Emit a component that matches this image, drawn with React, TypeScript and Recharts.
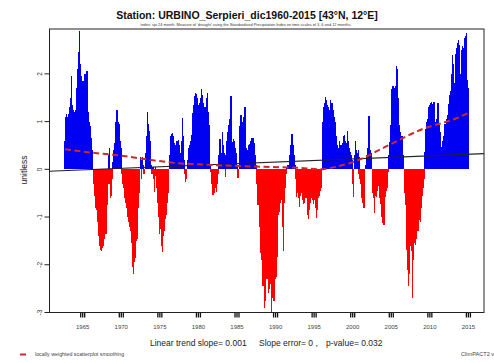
import { Bar, ComposedChart, Line, XAxis, YAxis } from "recharts"

// SPI-24 monthly values, Sep 1962 .. Dec 1969
const spi1960s = [
  0.6, 1.1, 1.15, 1.1,
  1.1, 1.05, 1.15, 1.3, 1.5, 1.45, 1.95, 1.35, 1.3, 1.25, 1.2, 1.1,
  1.0, 1.25, 1.7, 1.9, 2.1, 2.45, 2.9, 2.7, 2.2, 1.9, 1.95, 1.85,
  1.8, 1.85, 1.9, 2.0, 1.95, 2.0, 2.05, 1.7, 1.2, 1.15, 1.0, 0.9,
  0.85, 0.65, 0.4, 0.05, -0.1, -0.3, -0.55, -0.7, -0.8, -0.85, -0.95, -1.1,
  -1.2, -1.4, -1.6, -1.55, -1.68, -1.72, -1.65, -1.6, -1.5, -1.45, -1.35, -1.3,
  -1.35, -1.0, -0.75, -0.3, 0.3, 0.45, -0.3, -0.6, -0.55, -0.2, 0.15, 0.25,
  0.4, 0.55, 0.75, 1.0, 1.1, 1.25, 1.05, 1.0, 0.95, 0.8, 0.6, 0.45,
]
const spi1970s = [
  -0.1, -0.2, -0.3, -0.4, -0.5, -0.6, -0.65, -0.7, -0.8, -0.9, -1.0, -1.1,
  -1.15, -1.2, -1.3, -1.45, -1.55, -2.05, -2.2, -2.15, -1.95, -1.85, -1.6, -1.5,
  -1.45, -1.1, -0.8, -0.5, -0.3, 0.25, 0.2, -0.2, 0.15, 0.25, 0.1, -0.1,
  -0.05, 0.1, 0.35, 0.7, 1.2, 0.95, 0.85, 0.8, 0.6, 0.4, 0.1, -0.1,
  -0.1, 0.05, -0.2, -0.48, -0.15, 0.05, -0.05, -0.4, -0.7, -0.85, -1.0, -1.35,
  -1.15, -1.25, -1.45, -1.6, -1.73, -1.4, -1.3, -1.2, -1.05, -0.95, -0.8, -0.7,
  -0.5, -0.2, 0.1, 0.3, 0.5, 0.7, 0.75, 0.77, 0.7, 0.6, 0.55, 0.5,
  0.45, 0.55, 0.6, 0.5, 0.55, 0.62, 0.5, 0.35, 0.3, 0.5, 0.6, 1.08,
  0.7, 0.2, -0.1, -0.26, -0.2, -0.1, 0.05, 0.2, 0.35, 0.45, 0.5, 0.6,
  0.6, 0.71, 0.95, 1.19, 1.35, 1.54, 1.5, 1.6, 1.58, 1.55, 1.5, 1.35,
]
const spi1980s = [
  1.3, 1.35, 1.4, 1.5, 1.69, 1.55, 1.45, 1.4, 1.3, 1.25, 1.19, 1.3,
  1.45, 1.5, 1.6, 1.2, 0.92, 0.4, 0.1, -0.05, -0.3, -0.5, -0.54, -0.45,
  -0.47, -0.5, -0.4, -0.35, -0.47, -0.3, -0.1, 0.29, 0.5, 0.64, 0.4, 0.35,
  0.35, 0.78, 0.5, 0.25, 0.35, 0.3, -0.16, 0.3, 0.6, 0.78, 0.85, 0.92,
  1.06, 1.15, 1.54, 0.8, 0.57, 0.55, 0.64, 0.6, 0.5, 0.45, 0.35, 0.3,
  0.1, -0.19, -0.1, 0.3, 0.9, 1.13, 1.1, 1.13, 1.0, 0.92, 1.1, 1.25,
  1.3, 1.0, 0.45, 0.4, 0.35, 0.4, 0.5, 0.54, 0.6, 0.55, 0.62, 0.65,
  0.6, 0.65, 0.55, 0.45, 0.3, 0.1, -0.3, -0.72, -0.75, -0.7, -0.8, -1.2,
  -1.7, -1.75, -1.9, -2.2, -2.45, -2.25, -2.9, -2.76, -2.4, -2.15, -2.3, -2.2,
  -2.6, -2.56, -2.5, -1.85, -2.4, -2.98, -2.7, -2.6, -2.76, -2.75, -2.5, -2.3,
]
const spi1990s = [
  -2.25, -1.9, -1.84, -1.3, -0.95, -0.89, -0.75, -0.7, -0.6, -0.65, -0.9, -1.2,
  -1.72, -0.7, -0.4, -0.2, -0.1, 0.05, 0.05, 0.1, 0.1, 0.15, 0.29, 0.5,
  0.6, 0.75, 0.62, 0.5, 0.3, 0.1, 0.1, -0.2, -0.58, -0.5, -0.4, -0.5,
  -0.6, -0.79, -0.55, -0.5, -0.5, -0.55, -0.65, -0.72, -0.7, -0.6, -0.58, -0.6,
  -0.58, -0.8, -0.96, -1.04, -0.85, -0.7, -0.6, -0.55, -0.6, -0.65, -0.72, -0.7,
  -0.65, -0.6, -0.8, -1.03, -0.85, -0.7, -0.6, -0.55, -0.5, -0.45, -0.4, -0.3,
  0.9, 1.0, 1.1, 1.3, 1.4, 1.51, 1.45, 1.3, 1.35, 1.3, 1.25, 1.2,
  1.25, 1.45, 1.4, 1.35, 1.4, 1.25, 1.2, 1.1, 0.99, 0.85, 0.7, 0.5,
  0.3, 0.36, 0.45, 0.6, 0.5, 0.45, 0.4, 0.5, 0.55, 0.65, 0.7, 0.72,
  0.6, 0.45, 0.55, 0.81, 0.6, 0.5, 0.45, 0.4, 0.36, 0.3, 0.25, 0.2,
]
const spi2000s = [
  -0.3, -0.58, 0.1, 0.3, 0.6, 0.4, 0.35, 0.1, -0.1, 0.4, 0.25, -0.2,
  -0.3, -0.5, -0.6, -0.7, -0.72, -0.8, -0.4, 0.1, 0.1, 0.3, 0.4, 0.45,
  0.5, 1.12, 0.5, 0.4, 0.35, 0.1, -0.27, -0.5, -0.6, -0.92, -0.4, -0.55,
  -0.58, -0.5, -0.45, -0.35, -0.27, -0.5, -0.6, -0.72, -0.85, -1.0, -1.13, -0.85,
  -1.17, -0.6, -0.5, -0.58, -0.45, -0.4, -0.2, -0.05, 0.3, 0.57, 0.75, 0.92,
  1.68, 1.75, 1.74, 1.68, 1.7, 1.6, 1.65, 1.74, 2.17, 2.1, 1.5, 1.2,
  0.92, 0.78, 0.73, 0.6, 0.7, 0.5, 0.3, 0.1, -0.33, -0.5, -0.75, -1.41,
  -1.7, -2.1, -2.45, -2.2, -1.9, -1.6, -1.5, -1.72, -2.2, -2.69, -1.9, -1.55,
  -1.5, -1.58, -1.45, -1.35, -1.2, -1.3, -1.1, -1.06, -0.9, -1.1, -0.8, -0.7,
  -0.55, -0.4, -0.3, -0.2, 0.36, 0.85, 0.92, 1.0, 1.06, 1.15, 1.3, 1.35,
]
const spi2010s = [
  1.37, 1.4, 1.42, 1.37, 1.0, 1.3, 1.42, 1.3, 0.85, 1.0, 1.06, 1.15,
  1.4, 1.1, 0.92, 0.81, 0.78, 0.46, 0.36, 0.5, 0.6, 0.7, 0.78, 0.96,
  0.96, 1.0, 1.06, 1.13, 1.2, 1.37, 1.47, 1.55, 1.65, 1.71, 2.0, 2.4,
  2.2, 1.8, 1.5, 2.1, 2.42, 2.55, 2.58, 2.65, 2.72, 2.6, 2.45, 2.0,
  1.9, 2.5, 2.58, 2.5, 2.55, 2.58, 2.76, 2.8, 2.86, 2.4, 1.88, 1.7,
]

// lowess curve and linear trend
const loessYears = [1962.7, 1965.5, 1969.8, 1974.1, 1977.2, 1980.6, 1985.0, 1989.3, 1993.2, 1995.8, 1998.0, 2000.2, 2004.6, 2009.0, 2013.3, 2015.0]
const loessValues = [0.42, 0.36, 0.29, 0.19, 0.13, 0.1, 0.07, 0.05, 0.03, 0.0, 0.06, 0.16, 0.5, 0.84, 1.06, 1.18]
const trendYears = [1960.63, 2017.02]
const trendValues = [-0.04, 0.33]

const yearTicks = [1965, 1970, 1975, 1980, 1985, 1990, 1995, 2000, 2005, 2010, 2015]
const valueTicks = [-3, -2, -1, 0, 1, 2]

const monthly = [...spi1960s, ...spi1970s, ...spi1980s, ...spi1990s, ...spi2000s, ...spi2010s]
const data = monthly.map((v, i) => ({ t: 1962 + (8 + i + 0.5) / 12, v }))
const loessData = loessYears.map((t, i) => ({ t, v: loessValues[i] }))
const trendData = trendYears.map((t, i) => ({ t, v: trendValues[i] }))

const FONT = "'Liberation Sans', Arial, sans-serif"
const BLUE = "#0000f2"
const RED = "#ff0000"

// 1.3px wide bars so neighbouring months (0.64px apart) merge into a solid area
const SpiBar = (p: any) => {
  const cx = p.x + p.width / 2
  const top = Math.min(p.y, p.y + p.height)
  const h = Math.abs(p.height)
  return (
    <rect
      x={cx - 0.65}
      y={top}
      width={1.3}
      height={h}
      fill={p.payload.v >= 0 ? BLUE : RED}
      shapeRendering="crispEdges"
    />
  )
}

const XTick = ({ x, y, payload }: any) => (
  <g>
    {[-2, 0, 2].map((d) => (
      <line key={d} x1={x + d} x2={x + d} y1={y + 0.5} y2={y + 5} stroke="#111" strokeWidth={1.3} />
    ))}
    <text x={x} y={y + 16} textAnchor="middle" fontSize={6} fontFamily={FONT} fill="#444">
      {payload.value}
    </text>
  </g>
)

const YTick = ({ x, y, payload }: any) => (
  <g>
    <line x1={x - 4.5} x2={x} y1={y} y2={y} stroke="#222" strokeWidth={1} />
    <text
      transform={`translate(${x - 7.5},${y}) rotate(-90)`}
      textAnchor="middle"
      fontSize={6.5}
      fontFamily={FONT}
      fill="#333"
    >
      {payload.value}
    </text>
  </g>
)

export default function App() {
  return (
    <div style={{ position: "fixed", left: 0, top: 0, width: 494, height: 363, background: "#fff" }}>
      <ComposedChart
        width={494}
        height={363}
        data={data}
        margin={{ top: 29, right: 10, bottom: 0, left: 0 }}
      >
        <XAxis
          dataKey="t"
          type="number"
          domain={[1960.63, 2017.02]}
          allowDataOverflow
          ticks={yearTicks}
          interval={0}
          height={50.5}
          axisLine={false}
          tickLine={false}
          tickSize={0}
          tickMargin={0}
          tick={<XTick />}
        />
        <YAxis
          type="number"
          domain={[-3, 2.94]}
          allowDataOverflow
          ticks={valueTicks}
          interval={0}
          width={49}
          axisLine={false}
          tickLine={false}
          tickSize={0}
          tickMargin={0}
          tick={<YTick />}
        />
        <Bar dataKey="v" barSize={1} shape={<SpiBar />} isAnimationActive={false} />
        <Line
          data={trendData}
          dataKey="v"
          type="linear"
          stroke="#222"
          strokeWidth={1.2}
          dot={false}
          isAnimationActive={false}
        />
        <Line
          data={loessData}
          dataKey="v"
          type="monotone"
          stroke="#cc2a2a"
          strokeWidth={2}
          strokeDasharray="6 3.5"
          dot={false}
          isAnimationActive={false}
        />
      </ComposedChart>
      <svg
        width={494}
        height={363}
        style={{ position: "absolute", left: 0, top: 0, pointerEvents: "none" }}
        fontFamily={FONT}
      >
        <rect x={49.5} y={29} width={434.5} height={283.5} fill="none" stroke="#222" strokeWidth={1} />
        <text x={247} y={19.3} textAnchor="middle" fontSize={10.5} fontWeight="bold" fill="#111">
          Station: URBINO_Serpieri_dic1960-2015 [43°N, 12°E]
        </text>
        <text x={246} y={26.4} textAnchor="middle" fontSize={3.9} fill="#333">
          index: spi 24 month. Measure of 'drought' using the Standardised Precipitation Index on time scales of 3, 6 and 12 months.
        </text>
        <text transform="translate(27,170) rotate(-90)" textAnchor="middle" fontSize={8.5} fill="#222">
          unitless
        </text>
        <text x={150} y={346} fontSize={8.5} fill="#222">Linear trend slope= 0.001</text>
        <text x={259} y={346} fontSize={8.5} fill="#222">Slope error= 0 ,</text>
        <text x={326} y={346} fontSize={8.5} fill="#222">p-value= 0.032</text>
        <line x1={20} x2={26} y1={354.5} y2={354.5} stroke="#cc2a2a" strokeWidth={2} />
        <text x={35} y={356.3} fontSize={5.3} fill="#444">locally weighted scatterplot smoothing</text>
        <text x={461} y={356.3} fontSize={5.6} fill="#444">ClimPACT2 v</text>
      </svg>
    </div>
  )
}
